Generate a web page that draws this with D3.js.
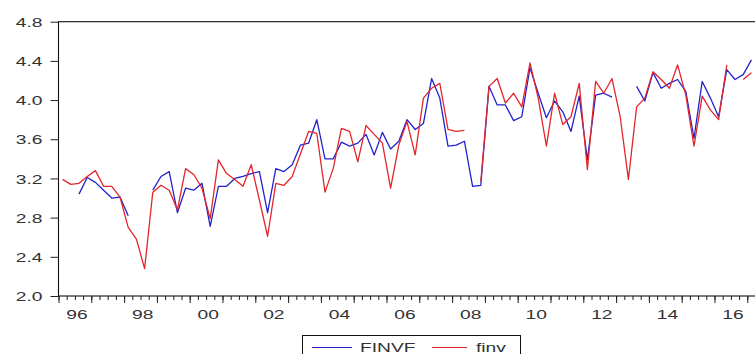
<!DOCTYPE html>
<html>
<head>
<meta charset="utf-8">
<script src="https://cdn.jsdelivr.net/npm/d3@7"></script>
<style>
  body { margin: 0; background: #fff; }
  svg { display: block; font-family: "Liberation Sans", Arial, sans-serif; }
</style>
</head>
<body>
<svg width="755" height="354"></svg>
<script>
// quarterly observations, 1996Q1 .. 2017Q1
const startYear = 1996;
const quarters = d3.range(85).map(i => (startYear + Math.floor(i / 4)) + "Q" + (i % 4 + 1));

const finvf = [null, null, 3.04, 3.21, 3.16, 3.08, 3.00, 3.01, 2.82, null,
    null, 3.08, 3.22, 3.27, 2.85, 3.10, 3.08, 3.15, 2.71, 3.12,
    3.12, 3.20, 3.22, 3.25, 3.27, 2.85, 3.30, 3.27, 3.34, 3.54,
    3.56, 3.80, 3.40, 3.40, 3.57, 3.53, 3.56, 3.65, 3.44, 3.67,
    3.50, 3.58, 3.80, 3.70, 3.76, 4.22, 4.02, 3.53, 3.54, 3.58,
    3.12, 3.13, 4.14, 3.95, 3.95, 3.79, 3.83, 4.33, 4.07, 3.82,
    3.99, 3.88, 3.68, 4.04, 3.39, 4.05, 4.07, 4.03, null, null,
    4.14, 3.99, 4.28, 4.12, 4.17, 4.21, 4.09, 3.61, 4.19, 4.02,
    3.83, 4.31, 4.21, 4.26, 4.41];

const finv = [3.19, 3.14, 3.15, 3.22, 3.28, 3.12, 3.12, 3.01, 2.70, 2.58,
    2.28, 3.06, 3.13, 3.08, 2.88, 3.30, 3.24, 3.10, 2.79, 3.39,
    3.25, 3.19, 3.12, 3.34, 2.98, 2.61, 3.15, 3.13, 3.22, 3.45,
    3.68, 3.66, 3.06, 3.30, 3.71, 3.68, 3.37, 3.74, 3.65, 3.56,
    3.10, 3.54, 3.78, 3.44, 4.02, 4.12, 4.17, 3.70, 3.68, 3.69,
    null, 3.17, 4.14, 4.22, 3.97, 4.07, 3.93, 4.38, 4.02, 3.53,
    4.07, 3.75, 3.83, 4.17, 3.29, 4.19, 4.07, 4.22, 3.83, 3.19,
    3.93, 4.02, 4.29, 4.21, 4.12, 4.36, 4.05, 3.53, 4.04, 3.90,
    3.80, 4.36, null, 4.21, 4.28];

const yTicks = [2.0, 2.4, 2.8, 3.2, 3.6, 4.0, 4.4, 4.8];
const xLabelYears = [1996, 1998, 2000, 2002, 2004, 2006, 2008, 2010, 2012, 2014, 2016];
const seriesNames = ["FINVF", "finv"];
const colors = ["#2222cc", "#e2262b"];

let svg = d3.select("svg"),
    plotLeft = 58.5, plotTop = 21.7, plotBottom = 296,
    yearW = 32.8,
    stretch = 1.48;

let x = d3.scaleLinear().domain([1996, 2018]).range([plotLeft, plotLeft + 22 * yearW]);
let y = d3.scaleLinear().domain([2.0, 4.8]).range([plotBottom, plotTop]);

// time position of a quarter: middle of the period
let qt = i => startYear + (i + 0.5) / 4;

svg.append("defs").append("clipPath").attr("id", "plot")
    .append("rect").attr("x", plotLeft).attr("y", plotTop)
    .attr("width", 800).attr("height", plotBottom - plotTop);

// y axis
let ya = svg.append("g")
    .attr("transform", "translate(" + plotLeft + ",0)")
    .call(d3.axisLeft(y).tickValues(yTicks).tickSize(8).tickFormat(d3.format(".1f")));
ya.select(".domain").remove();
ya.selectAll("line").attr("stroke", "#222");
ya.selectAll("text")
    .attr("x", -16 / stretch).attr("dy", "0.36em")
    .attr("transform", "scale(" + stretch + ",1)")
    .attr("font-size", 13).attr("fill", "#333");

// x axis: quarterly minor ticks, yearly major ticks, labels centred on the year
let xa = svg.append("g").attr("transform", "translate(0," + plotBottom + ")");
xa.append("g").call(d3.axisBottom(x).tickValues(d3.range(1996, 2018.01, 0.25)).tickSize(4).tickFormat(""));
xa.append("g").call(d3.axisBottom(x).tickValues(d3.range(1996, 2019)).tickSize(7).tickFormat(""));
let xl = xa.append("g").call(d3.axisBottom(x).tickValues(xLabelYears.map(d => d + 0.55)).tickSize(0)
    .tickFormat(d => String(Math.floor(d) % 100).padStart(2, "0")));
xa.selectAll(".domain").remove();
xa.selectAll("line").attr("stroke", "#222");
xl.selectAll("text")
    .attr("y", 23).attr("dy", null)
    .attr("transform", "scale(" + stretch + ",1)")
    .attr("font-size", 13).attr("fill", "#333");

// frame
svg.append("rect")
    .attr("x", plotLeft).attr("y", plotTop)
    .attr("width", 800).attr("height", plotBottom - plotTop)
    .attr("fill", "none").attr("stroke", "#111").attr("stroke-width", 1.1);

// series
let line = d3.line()
    .defined(d => d.v != null)
    .x(d => x(d.t))
    .y(d => y(d.v));

let plot = svg.append("g").attr("clip-path", "url(#plot)");
[finvf, finv].forEach(function (vals, s) {
    plot.append("path")
        .datum(vals.map((v, i) => ({t: qt(i), v: v, q: quarters[i]})))
        .attr("fill", "none")
        .attr("stroke", colors[s])
        .attr("stroke-width", 1.3)
        .attr("stroke-linejoin", "round")
        .attr("d", line);
});

// legend (cut by the bottom edge)
let legend = svg.append("g");
legend.append("rect")
    .attr("x", 302.5).attr("y", 335.5)
    .attr("width", 218).attr("height", 30)
    .attr("fill", "#fff").attr("stroke", "#111");
let lx = [[312, 352, 360], [432, 467, 476]];
seriesNames.forEach(function (name, s) {
    legend.append("line")
        .attr("x1", lx[s][0]).attr("x2", lx[s][1])
        .attr("y1", 347.5).attr("y2", 347.5)
        .attr("stroke", colors[s]).attr("stroke-width", 1.2);
    legend.append("text")
        .attr("x", lx[s][2] / stretch).attr("y", 352)
        .attr("transform", "scale(" + stretch + ",1)")
        .attr("font-size", 13).attr("fill", "#333")
        .text(name);
});
</script>
</body>
</html>
